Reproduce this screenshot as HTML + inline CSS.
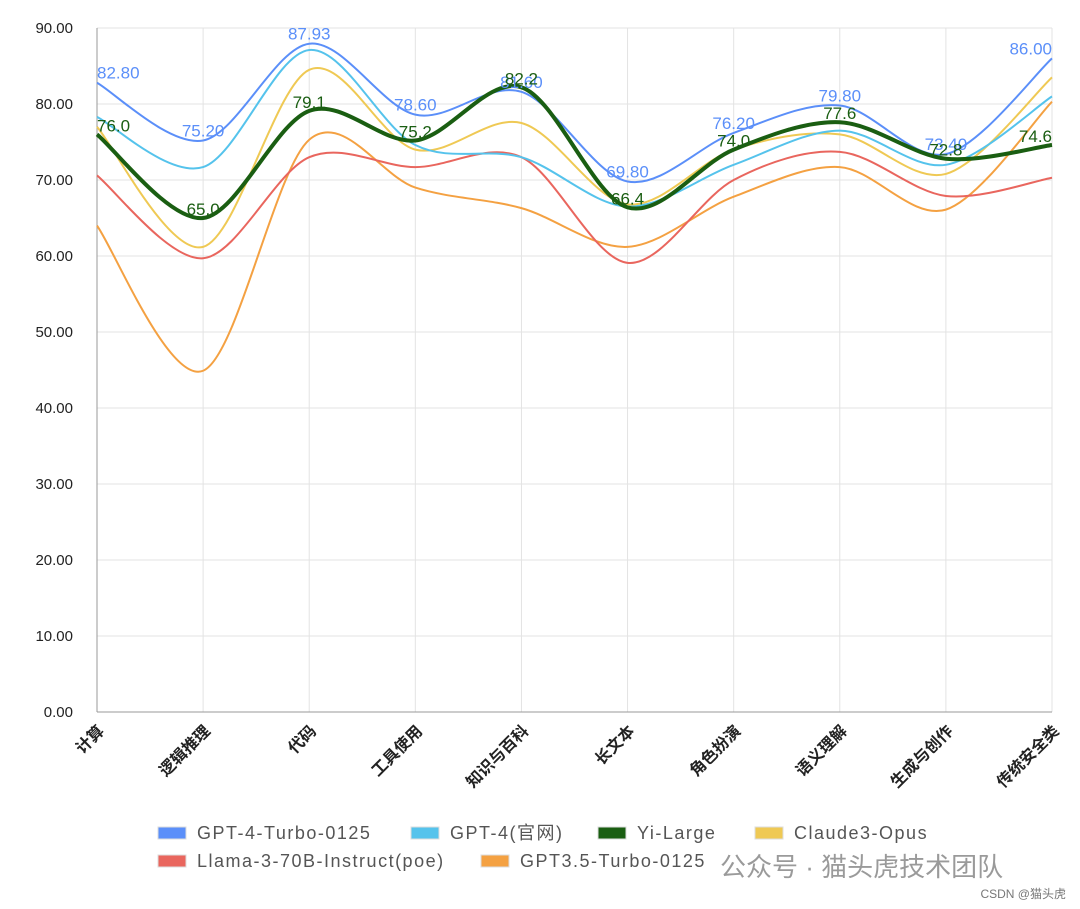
<!DOCTYPE html>
<html><head><meta charset="utf-8">
<style>
html,body{margin:0;padding:0;background:#fff;}
svg{display:block;font-family:"Liberation Sans","Noto Sans CJK SC",sans-serif;}
</style></head>
<body>
<svg id="chart" width="1080" height="909"></svg>
<script>
const categories=["计算","逻辑推理","代码","工具使用","知识与百科","长文本","角色扮演","语义理解","生成与创作","传统安全类"];
const seriesNames=["GPT-4-Turbo-0125","GPT-4(官网)","Yi-Large","Claude3-Opus","Llama-3-70B-Instruct(poe)","GPT3.5-Turbo-0125"];
const gpt4Turbo=[82.8,75.2,87.93,78.6,81.6,69.8,76.2,79.8,73.4,86.0];
const gpt4Web=[78.3,71.7,87.1,74.6,73.0,66.5,72.0,76.5,72.0,81.0];
const yiLarge=[76.0,65.0,79.1,75.2,82.2,66.4,74.0,77.6,72.8,74.6];
const claude3=[77.0,61.2,84.5,74.0,77.5,66.8,74.0,76.0,70.8,83.5];
const llama3=[70.6,59.7,73.0,71.7,73.0,59.1,70.0,73.7,67.9,70.3];
const gpt35=[64.0,44.9,75.3,69.0,66.3,61.2,67.8,71.7,66.1,80.3];
const yTicks=[0,10,20,30,40,50,60,70,80,90];

const NS="http://www.w3.org/2000/svg";
const svg=document.getElementById('chart');
const x0=97,x1=1052,yTop=28,yBot=712;
const xs=i=>x0+i*(x1-x0)/(categories.length-1);
const ys=v=>yBot-(v/90)*(yBot-yTop);
function mk(tag,attrs,parent){const e=document.createElementNS(NS,tag);for(const k in attrs)e.setAttribute(k,attrs[k]);(parent||svg).appendChild(e);return e;}

const grid=mk('g',{});


yTicks.forEach(t=>{
  mk('line',{x1:x0,x2:x1,y1:ys(t),y2:ys(t),stroke:'#e3e3e3','stroke-width':1},grid);
  const tx=mk('text',{x:73,y:ys(t)+5,'text-anchor':'end','font-size':15,fill:'#222'});
  tx.textContent=t.toFixed(2);
  
  
});
categories.forEach((c,i)=>{
  mk('line',{x1:xs(i),x2:xs(i),y1:yTop,y2:yBot,stroke:'#e3e3e3','stroke-width':1},grid);
  const tx=mk('text',{x:0,y:0,'text-anchor':'end','font-size':16,fill:'#222','font-weight':'bold',transform:`translate(${xs(i)+8},${yBot+20}) rotate(-45)`});
  tx.textContent=c;
  
  
});
const yAxis=mk('line',{x1:x0,x2:x0,y1:yTop,y2:yBot,stroke:'#999'});


const xAxis=mk('line',{x1:x0,x2:x1,y1:yBot,y2:yBot,stroke:'#999'});



function smooth(vals){
  const p=vals.map((v,i)=>[xs(i),ys(v)]);
  let d=`M${p[0][0]},${p[0][1]}`;
  for(let i=0;i<p.length-1;i++){
    const a=p[i-1]||p[i],b=p[i],c=p[i+1],e=p[i+2]||c;
    const t=0.16;
    d+=` C${b[0]+(c[0]-a[0])*t},${b[1]+(c[1]-a[1])*t} ${c[0]-(e[0]-b[0])*t},${c[1]-(e[1]-b[1])*t} ${c[0]},${c[1]}`;
  }
  return d;
}
const series=[
 {v:gpt35,c:'#f4a142',w:2,n:'series-gpt35'},
 {v:llama3,c:'#e9665e',w:2,n:'series-llama3'},
 {v:claude3,c:'#efc954',w:2,n:'series-claude3'},
 {v:gpt4Web,c:'#55c3ec',w:2,n:'series-gpt4-web'},
 {v:gpt4Turbo,c:'#5b8ff9',w:2,n:'series-gpt4-turbo'},
 {v:yiLarge,c:'#1a5e12',w:4,n:'series-yi-large'}
];
series.forEach(s=>{
  const p=mk('path',{d:smooth(s.v),fill:'none',stroke:s.c,'stroke-width':s.w});
  
  
});
gpt4Turbo.forEach((v,i)=>{
  const t=mk('text',{x:xs(i),y:ys(v)-4,'text-anchor':i===0?'start':(i===9?'end':'middle'),'font-size':17,fill:'#5b8ff9'});
  t.textContent=v.toFixed(2);
  
  
});
yiLarge.forEach((v,i)=>{
  const t=mk('text',{x:xs(i),y:ys(v)-3,'text-anchor':i===0?'start':(i===9?'end':'middle'),'font-size':17,fill:'#1a5e12'});
  t.textContent=v.toFixed(1);
  
  
});
const legendColors=['#5b8ff9','#55c3ec','#1a5e12','#efc954','#e9665e','#f4a142'];
const legendPos=[[158,833],[411,833],[598,833],[755,833],[158,861],[481,861]];
seriesNames.forEach((n,i)=>{
  const g=mk('g',{});
  
  
  mk('rect',{x:legendPos[i][0],y:legendPos[i][1]-6,width:28,height:12,fill:legendColors[i],stroke:'#ddd'},g);
  const t=mk('text',{x:legendPos[i][0]+39,y:legendPos[i][1]+6,'font-size':18,'letter-spacing':1.5,fill:'#555'},g);
  t.textContent=n;
});
const wm=mk('text',{x:720,y:876,'font-size':26,fill:'#9a9a9a'});
wm.textContent='公众号 · 猫头虎技术团队';


const wm2=mk('text',{x:1066,y:898,'text-anchor':'end','font-size':12,fill:'#777'});
wm2.textContent='CSDN @猫头虎';


</script>
</body></html>
